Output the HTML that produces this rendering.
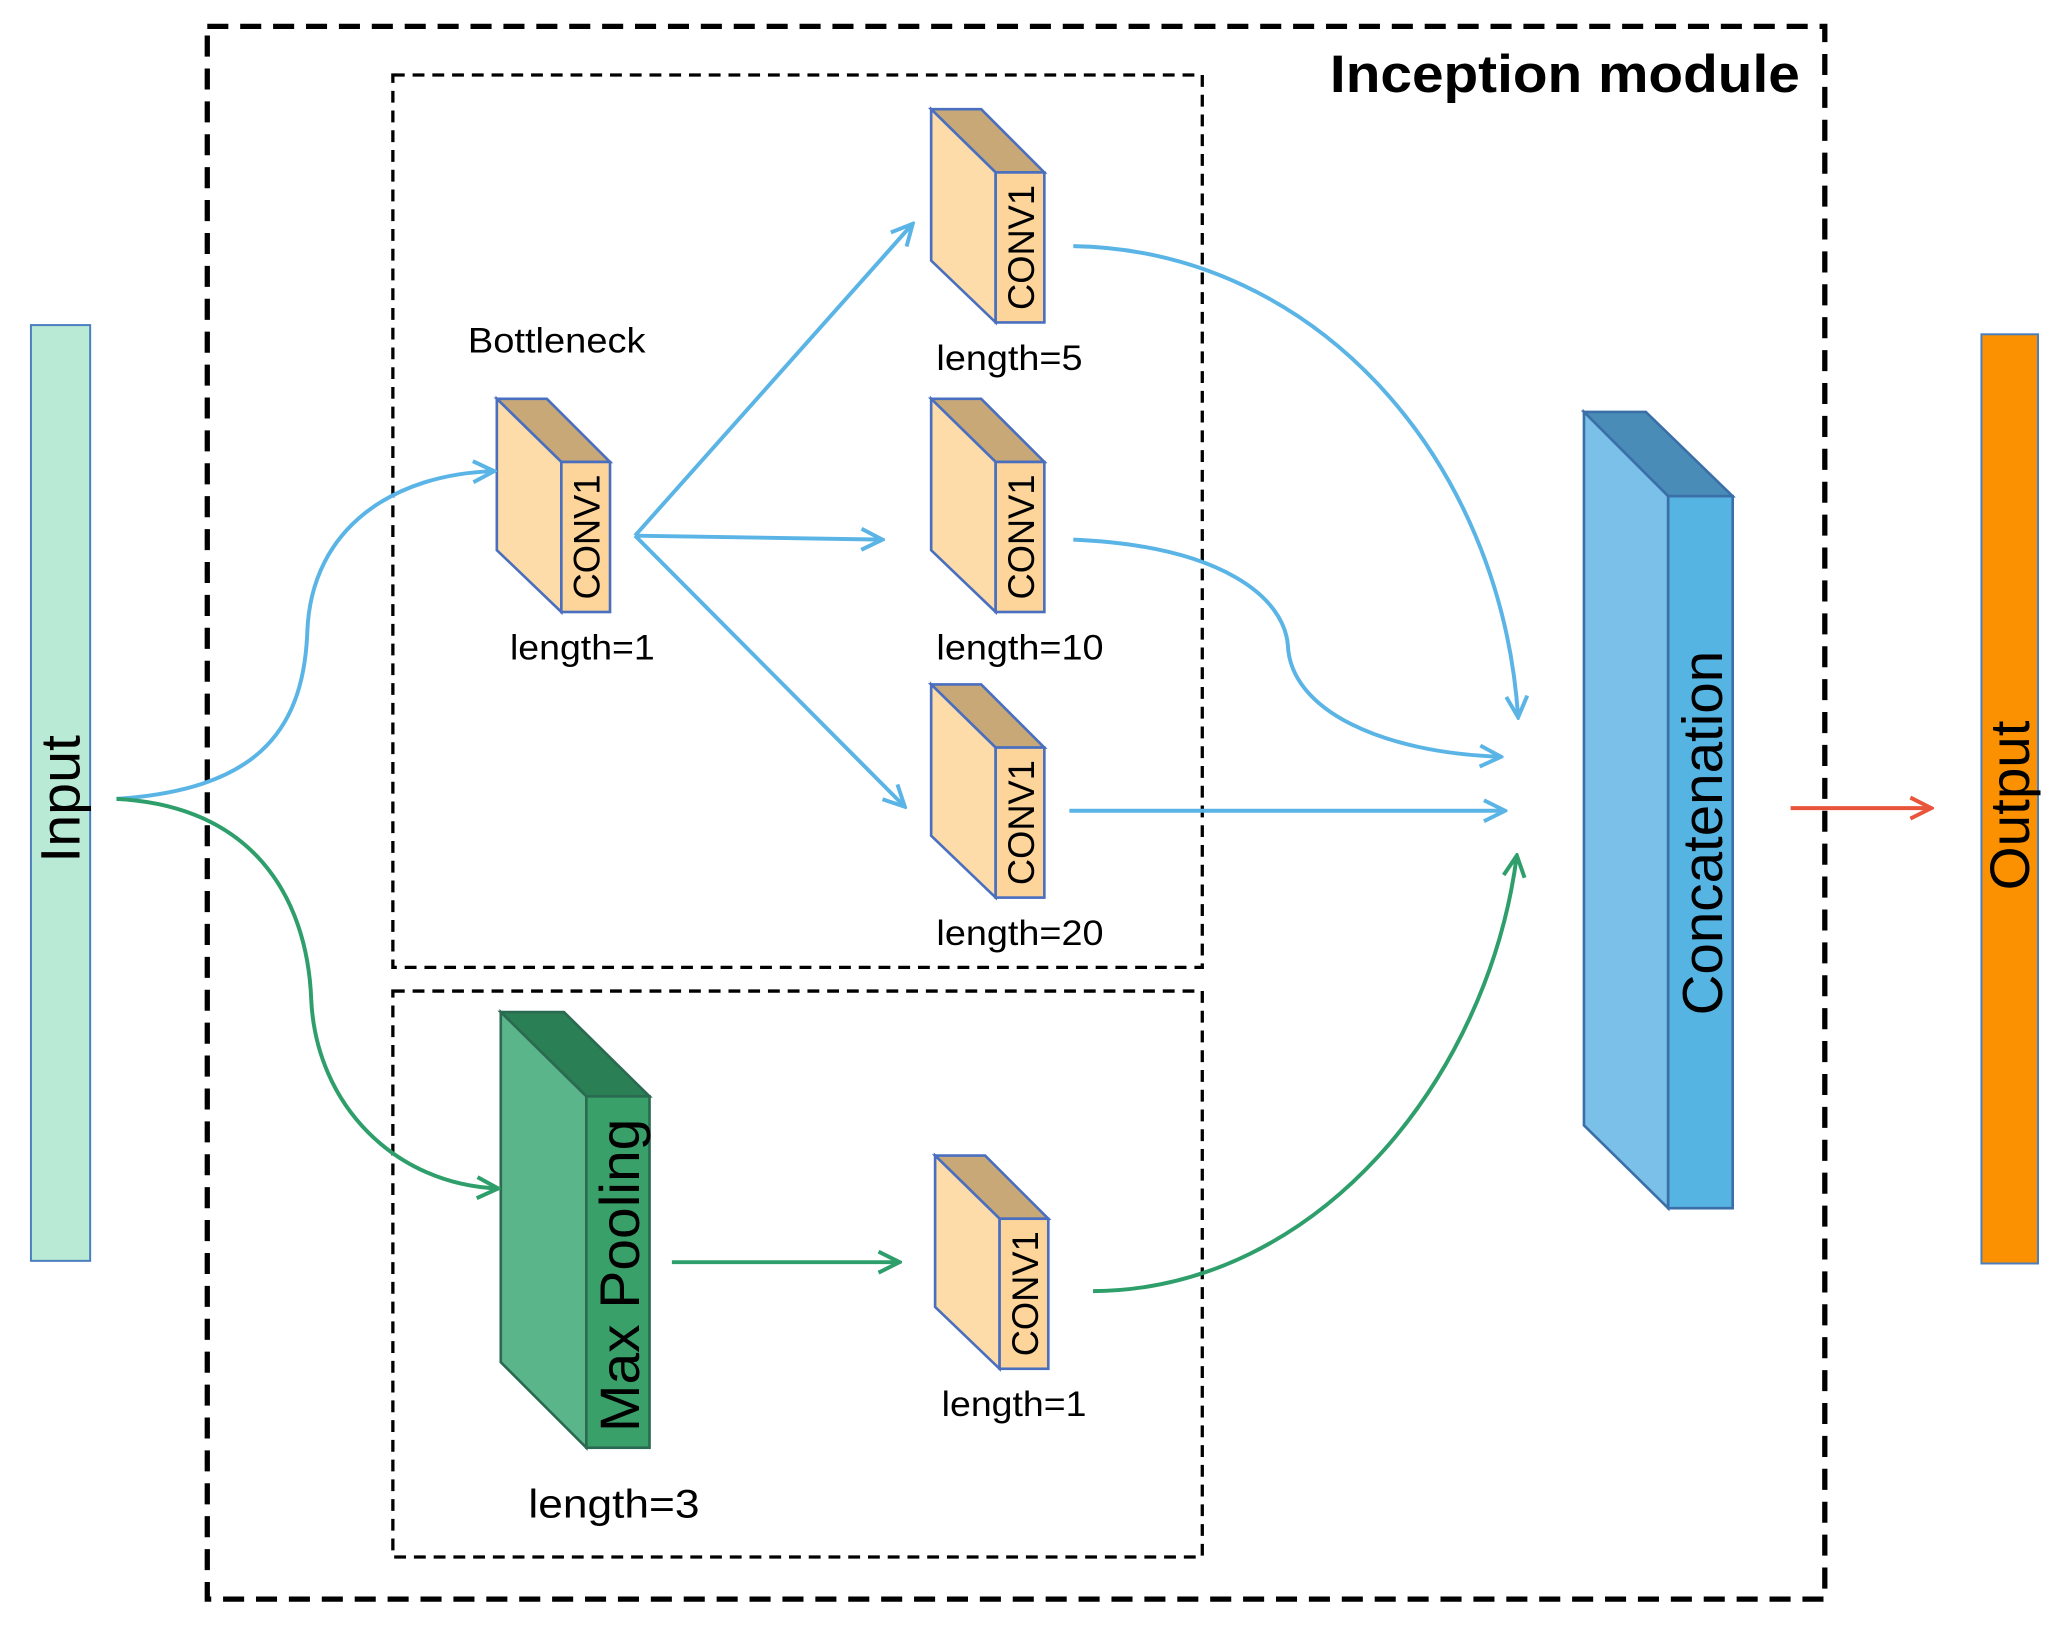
<!DOCTYPE html>
<html><head><meta charset="utf-8"><style>html,body{margin:0;padding:0;background:#fff}svg{display:block}</style></head>
<body>
<svg width="2065" height="1632" viewBox="0 0 1568 1240" xmlns="http://www.w3.org/2000/svg" font-family="Liberation Sans, sans-serif">
<defs>
<marker id="ab" viewBox="0 0 20 20" refX="18" refY="10" markerWidth="20" markerHeight="20" markerUnits="userSpaceOnUse" orient="auto"><polyline points="2,2 18,10 2,18" fill="none" stroke="#5ab4e5" stroke-width="3"/></marker>
<marker id="ag" viewBox="0 0 20 20" refX="18" refY="10" markerWidth="20" markerHeight="20" markerUnits="userSpaceOnUse" orient="auto"><polyline points="2,2 18,10 2,18" fill="none" stroke="#2e9e6b" stroke-width="3"/></marker>
<marker id="ar" viewBox="0 0 20 20" refX="18" refY="10" markerWidth="20" markerHeight="20" markerUnits="userSpaceOnUse" orient="auto"><polyline points="2,2 18,10 2,18" fill="none" stroke="#e8553a" stroke-width="3"/></marker>
<g id="blk">
<polygon points="0,0 38,0 86,48 49,48" fill="#c9a877" stroke="#4a6fbf" stroke-width="2"/>
<polygon points="0,0 49,48 49,162 0,115" fill="#fddcaa" stroke="#4a6fbf" stroke-width="2"/>
<rect x="49" y="48" width="37" height="114" fill="#fdd59a" stroke="#4a6fbf" stroke-width="2"/>
<text transform="translate(78,105) rotate(-90)" text-anchor="middle" font-size="28" textLength="95" lengthAdjust="spacingAndGlyphs">CONV1</text>
</g>
</defs>
<rect x="157" y="20" width="1229" height="1195" fill="none" stroke="#000" stroke-width="4" stroke-dasharray="16,9"/>
<rect x="298" y="57" width="615" height="678" fill="none" stroke="#000" stroke-width="2.5" stroke-dasharray="9,6"/>
<rect x="298" y="753" width="615" height="430" fill="none" stroke="#000" stroke-width="2.5" stroke-dasharray="9,6"/>
<text x="1010" y="70" font-size="40" font-weight="bold" textLength="357" lengthAdjust="spacingAndGlyphs">Inception module</text>

<rect x="23" y="247" width="45" height="711" fill="#b8ead5" stroke="#4a7ebf" stroke-width="1.5"/>
<text transform="translate(60,607) rotate(-90)" text-anchor="middle" font-size="42" textLength="97" lengthAdjust="spacingAndGlyphs">Input</text>
<rect x="1505" y="254" width="43" height="706" fill="#fb9100" stroke="#4a7ebf" stroke-width="1.5"/>
<text transform="translate(1541,612) rotate(-90)" text-anchor="middle" font-size="42" textLength="129" lengthAdjust="spacingAndGlyphs">Output</text>

<polygon points="1203,313 1250,313 1316,377 1267,377" fill="#4a8cb8" stroke="#3a6fa8" stroke-width="2"/>
<polygon points="1203,313 1267,377 1267,918 1203,855" fill="#7bc0e8" stroke="#3a6fa8" stroke-width="2"/>
<rect x="1267" y="377" width="49" height="541" fill="#56b4e3" stroke="#3a6fa8" stroke-width="2"/>
<text transform="translate(1308,633) rotate(-90)" text-anchor="middle" font-size="43" textLength="277" lengthAdjust="spacingAndGlyphs">Concatenation</text>

<polygon points="380,769 428,769 493,833 445,833" fill="#2a7f55" stroke="#2a6a50" stroke-width="2"/>
<polygon points="380,769 445,833 445,1100 380,1035" fill="#5ab58a" stroke="#2a6a50" stroke-width="2"/>
<rect x="445" y="833" width="48" height="267" fill="#3aa06a" stroke="#2a6a50" stroke-width="2"/>
<text transform="translate(485,969) rotate(-90)" text-anchor="middle" font-size="42" textLength="238" lengthAdjust="spacingAndGlyphs">Max Pooling</text>

<use href="#blk" x="377" y="303"/>
<use href="#blk" x="707" y="83"/>
<use href="#blk" x="707" y="303"/>
<use href="#blk" x="707" y="520"/>
<use href="#blk" x="710" y="878"/>

<g font-size="27">
<text x="355" y="268" textLength="135" lengthAdjust="spacingAndGlyphs">Bottleneck</text>
<text x="387" y="501" textLength="110" lengthAdjust="spacingAndGlyphs">length=1</text>
<text x="711" y="281" textLength="111" lengthAdjust="spacingAndGlyphs">length=5</text>
<text x="711" y="501" textLength="127" lengthAdjust="spacingAndGlyphs">length=10</text>
<text x="711" y="718" textLength="127" lengthAdjust="spacingAndGlyphs">length=20</text>
<text x="715" y="1076" textLength="110" lengthAdjust="spacingAndGlyphs">length=1</text>
<text x="401" y="1153" font-size="30" textLength="130" lengthAdjust="spacingAndGlyphs">length=3</text>
</g>

<g fill="none" stroke-width="3">
<path d="M88,607 C190,600 230,560 233,480 C236,400 300,360 375,358" stroke="#5ab4e5" marker-end="url(#ab)"/>
<path d="M88,607 C190,612 233,680 236,760 C240,840 300,900 378,903" stroke="#2e9e6b" marker-end="url(#ag)"/>
<path d="M482,407 L693,170" stroke="#5ab4e5" marker-end="url(#ab)"/>
<path d="M482,407 L670,410" stroke="#5ab4e5" marker-end="url(#ab)"/>
<path d="M482,407 L687,613" stroke="#5ab4e5" marker-end="url(#ab)"/>
<path d="M815,187 C1000,190 1140,350 1153,545" stroke="#5ab4e5" marker-end="url(#ab)"/>
<path d="M815,410 C930,415 975,455 978,490 C980,540 1050,572 1140,575" stroke="#5ab4e5" marker-end="url(#ab)"/>
<path d="M812,616 L1143,616" stroke="#5ab4e5" marker-end="url(#ab)"/>
<path d="M510,959 L683,959" stroke="#2e9e6b" marker-end="url(#ag)"/>
<path d="M830,981 C1000,980 1130,820 1152,650" stroke="#2e9e6b" marker-end="url(#ag)"/>
<path d="M1360,614 L1467,614" stroke="#e8553a" marker-end="url(#ar)"/>
</g>
</svg>
</body></html>
